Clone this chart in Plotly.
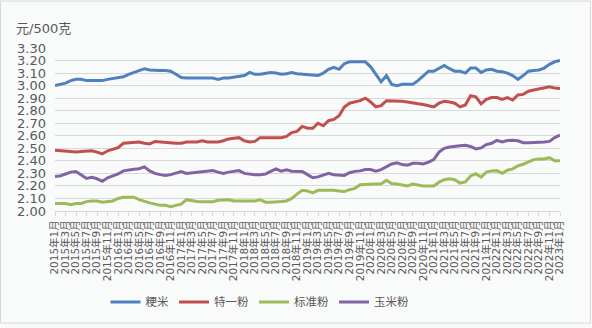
import plotly.graph_objects as go

# Month categories 2015年1月 .. 2023年1月
months = [f"{y}年{m}月" for y in range(2015, 2024) for m in range(1, 13)][:97]
tick_labels = months[::2]

series_names = ["粳米", "特一粉", "标准粉", "玉米粉"]

japonica_rice = [
    3.00, 3.01, 3.02, 3.04, 3.05, 3.05, 3.04, 3.04, 3.04, 3.04,
    3.05, 3.055, 3.06, 3.07, 3.09, 3.105, 3.12, 3.135, 3.125, 3.12,
    3.12, 3.12, 3.115, 3.09, 3.065, 3.06, 3.06, 3.06, 3.06, 3.06,
    3.06, 3.05, 3.06, 3.06, 3.065, 3.075, 3.08, 3.105, 3.09, 3.09,
    3.095, 3.105, 3.10, 3.09, 3.095, 3.105, 3.095, 3.09, 3.09, 3.085,
    3.08, 3.10, 3.13, 3.145, 3.13, 3.175, 3.19, 3.19, 3.19, 3.19,
    3.15, 3.09, 3.03, 3.08, 3.01, 3.00, 3.01, 3.01, 3.01, 3.04,
    3.08, 3.115, 3.115, 3.135, 3.16, 3.135, 3.115, 3.115, 3.10, 3.14,
    3.14, 3.105, 3.125, 3.13, 3.115, 3.11, 3.10, 3.08, 3.05, 3.08,
    3.115, 3.12, 3.125, 3.14, 3.17, 3.19, 3.20,
]

special_flour = [
    2.485, 2.48, 2.475, 2.47, 2.47, 2.475, 2.478, 2.48, 2.47, 2.455,
    2.48, 2.49, 2.505, 2.54, 2.545, 2.55, 2.55, 2.54, 2.535, 2.555,
    2.55, 2.55, 2.545, 2.54, 2.54, 2.55, 2.55, 2.55, 2.56, 2.55,
    2.55, 2.55, 2.56, 2.575, 2.58, 2.585, 2.56, 2.55, 2.555, 2.585,
    2.585, 2.585, 2.585, 2.585, 2.595, 2.625, 2.635, 2.675, 2.66, 2.66,
    2.70, 2.68, 2.72, 2.73, 2.76, 2.83, 2.86, 2.87, 2.88, 2.90,
    2.87, 2.83, 2.84, 2.88, 2.88, 2.875, 2.875, 2.87, 2.86, 2.855,
    2.85, 2.84, 2.83, 2.86, 2.875, 2.87, 2.86, 2.83, 2.846, 2.92,
    2.91, 2.855, 2.89, 2.905, 2.905, 2.89, 2.905, 2.885, 2.925, 2.93,
    2.955, 2.965, 2.975, 2.985, 2.99, 2.98, 2.977,
]

standard_flour = [
    2.06, 2.06, 2.06, 2.05, 2.06, 2.06, 2.075, 2.08, 2.08, 2.07,
    2.075, 2.08, 2.10, 2.11, 2.11, 2.11, 2.09, 2.075, 2.065, 2.055,
    2.045, 2.045, 2.035, 2.045, 2.055, 2.09, 2.08, 2.075, 2.074, 2.074,
    2.074, 2.085, 2.085, 2.09, 2.08, 2.08, 2.08, 2.08, 2.08, 2.09,
    2.07, 2.07, 2.07, 2.075, 2.08, 2.10, 2.135, 2.165, 2.16, 2.145,
    2.165, 2.166, 2.166, 2.166, 2.16, 2.155, 2.17, 2.18, 2.21, 2.213,
    2.216, 2.217, 2.218, 2.245, 2.22, 2.216, 2.21, 2.20, 2.215, 2.205,
    2.20, 2.20, 2.20, 2.23, 2.25, 2.257, 2.25, 2.223, 2.232, 2.28,
    2.297, 2.27, 2.31, 2.32, 2.322, 2.30, 2.325, 2.336, 2.36, 2.373,
    2.39, 2.41, 2.415, 2.415, 2.425, 2.40, 2.40,
]

corn_flour = [
    2.275, 2.28, 2.295, 2.31, 2.315, 2.29, 2.26, 2.268, 2.257, 2.237,
    2.265, 2.28, 2.295, 2.32, 2.328, 2.333, 2.337, 2.352, 2.32, 2.30,
    2.29, 2.284, 2.29, 2.30, 2.315, 2.30, 2.305, 2.31, 2.316, 2.32,
    2.323, 2.31, 2.30, 2.31, 2.316, 2.322, 2.30, 2.293, 2.29, 2.29,
    2.295, 2.316, 2.336, 2.318, 2.328, 2.317, 2.316, 2.316, 2.29, 2.265,
    2.272, 2.285, 2.30, 2.29, 2.284, 2.284, 2.305, 2.316, 2.32, 2.33,
    2.33, 2.318, 2.33, 2.35, 2.375, 2.385, 2.37, 2.365, 2.38, 2.38,
    2.375, 2.39, 2.41, 2.47, 2.50, 2.51, 2.513, 2.52, 2.525, 2.515,
    2.495, 2.503, 2.53, 2.54, 2.563, 2.55, 2.562, 2.565, 2.56, 2.545,
    2.544, 2.544, 2.545, 2.55, 2.555, 2.585, 2.605,
]

colors = ["#4F81BD", "#C0504D", "#9BBB59", "#8064A2"]
all_series = [japonica_rice, special_flour, standard_flour, corn_flour]

FONT = "DejaVu Sans, Noto Sans CJK SC, sans-serif"
GRAY = "#595959"

fig = go.Figure()
for name, vals, col in zip(series_names, all_series, colors):
    fig.add_trace(go.Scatter(
        x=months, y=vals, name=name, mode="lines",
        line=dict(color=col, width=3),
    ))

W, H = 592, 328
L, R, T, B = 55, 32, 48, 115
pw, ph = W - L - R, H - T - B

def px_x(p):
    return (p - L) / pw

def px_y(p):
    return (H - B - p) / ph

fig.update_layout(
    width=W, height=H,
    margin=dict(l=L, r=R, t=T, b=B, pad=0),
    paper_bgcolor="#F9FAFA",
    plot_bgcolor="#F9FAFA",
    font=dict(family=FONT, color=GRAY),
    showlegend=True,
    legend=dict(
        orientation="h", x=px_x(260), y=px_y(305),
        xanchor="center", yanchor="middle",
        font=dict(size=11.5, color=GRAY, family=FONT),
        bgcolor="rgba(0,0,0,0)", itemwidth=30, tracegroupgap=0,
    ),
    xaxis=dict(
        type="category", range=[0, len(months) - 1],
        tickmode="array", tickvals=tick_labels, ticktext=tick_labels,
        tickangle=-90, tickfont=dict(size=10.5, color=GRAY, family=FONT),
        ticks="outside", ticklen=4, tickcolor="#D9D9D9",
        showline=True, linecolor="#D9D9D9", linewidth=1,
        showgrid=False, zeroline=False,
    ),
    yaxis=dict(
        range=[2.0, 3.3], dtick=0.1, tick0=2.0, tickformat=".2f",
        tickfont=dict(size=13, color=GRAY, family=FONT),
        showgrid=True, gridcolor="#D9D9D9", gridwidth=1,
        showline=False, zeroline=False, ticks="", ticklabelstandoff=8,
    ),
    annotations=[dict(
        text="元/500克", xref="paper", yref="paper",
        x=px_x(14), y=px_y(28), xanchor="left", yanchor="middle",
        showarrow=False, font=dict(size=13, color=GRAY, family=FONT),
    )],
    shapes=[dict(
        type="rect", xref="paper", yref="paper", layer="below",
        x0=px_x(0.5), x1=px_x(W - 1.5), y0=px_y(H - 1.5), y1=px_y(0.5),
        line=dict(color="#D9D9D9", width=1), fillcolor="rgba(0,0,0,0)",
    )],
)

fig.write_html("out.html")
